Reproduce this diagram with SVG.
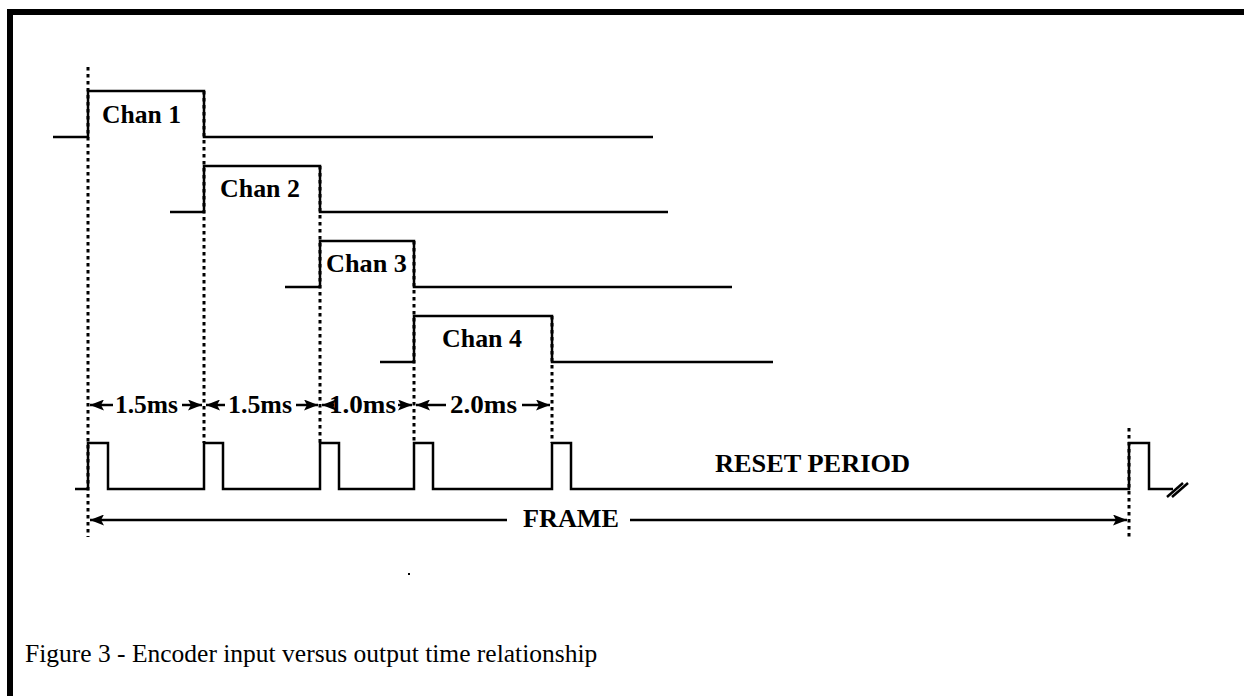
<svg xmlns="http://www.w3.org/2000/svg" width="1244" height="696" viewBox="0 0 1244 696">
<style>
.w{fill:none;stroke:#000;stroke-width:2.5;stroke-linejoin:miter}
.d{fill:none;stroke:#000;stroke-width:3;stroke-dasharray:3.5 3.5}
.a{fill:none;stroke:#000;stroke-width:2.5}
.b{font-family:"Liberation Serif","DejaVu Serif","Times New Roman",Times,serif;font-weight:bold;font-size:25px;fill:#000}
.c{font-family:"Liberation Serif","DejaVu Serif","Times New Roman",Times,serif;font-size:25.5px;fill:#000}
</style>
<defs>
<marker id="ah" viewBox="0 0 14 11" refX="14" refY="5.5" markerWidth="14" markerHeight="11" markerUnits="userSpaceOnUse" orient="auto-start-reverse">
<path d="M0,0 L14,5.5 L0,11 L3,5.5 z" fill="#000"/>
</marker>
</defs>
<rect width="1244" height="696" fill="#fff"/>
<g id="border">
<rect x="7" y="9" width="1237" height="6" fill="#000"/>
<rect x="7" y="9" width="6" height="687" fill="#000"/>
</g>
<g id="connectors">
<line class="d" x1="88" y1="67" x2="88" y2="537"/>
<line class="d" x1="204" y1="91" x2="204" y2="443"/>
<line class="d" x1="320" y1="166" x2="320" y2="443"/>
<line class="d" x1="414" y1="241" x2="414" y2="443"/>
<line class="d" x1="552" y1="316" x2="552" y2="443"/>
<line class="d" x1="1129" y1="428" x2="1129" y2="537"/>
<line class="a" x1="90" y1="405" x2="113" y2="405" marker-start="url(#ah)"/>
<line class="a" x1="182" y1="405" x2="202" y2="405" marker-end="url(#ah)"/>
<line class="a" x1="206" y1="405" x2="225" y2="405" marker-start="url(#ah)"/>
<line class="a" x1="296" y1="405" x2="318" y2="405" marker-end="url(#ah)"/>
<line class="a" x1="322" y1="405" x2="334" y2="405" marker-start="url(#ah)"/>
<line class="a" x1="398" y1="405" x2="412" y2="405" marker-end="url(#ah)"/>
<line class="a" x1="416" y1="405" x2="446" y2="405" marker-start="url(#ah)"/>
<line class="a" x1="522" y1="405" x2="550" y2="405" marker-end="url(#ah)"/>
<line class="a" x1="90" y1="520" x2="507" y2="520" marker-start="url(#ah)"/>
<line class="a" x1="630" y1="520" x2="1127" y2="520" marker-end="url(#ah)"/>
<text class="b" x="115" y="413" textLength="63" lengthAdjust="spacingAndGlyphs">1.5ms</text>
<text class="b" x="228" y="413" textLength="64" lengthAdjust="spacingAndGlyphs">1.5ms</text>
<text class="b" x="329" y="413" textLength="67" lengthAdjust="spacingAndGlyphs">1.0ms</text>
<text class="b" x="450" y="413" textLength="67" lengthAdjust="spacingAndGlyphs">2.0ms</text>
<text class="b" x="523" y="527" textLength="96" lengthAdjust="spacingAndGlyphs">FRAME</text>
</g>
<g id="chan1">
<polyline class="w" points="53,137 88,137 88,91 204,91 204,137 653,137"/>
<text class="b" x="102" y="123" textLength="79" lengthAdjust="spacingAndGlyphs">Chan 1</text>
</g>
<g id="chan2">
<polyline class="w" points="170,212 204,212 204,166 320,166 320,212 668,212"/>
<text class="b" x="220" y="197" textLength="80" lengthAdjust="spacingAndGlyphs">Chan 2</text>
</g>
<g id="chan3">
<polyline class="w" points="285,287 320,287 320,241 414,241 414,287 732,287"/>
<text class="b" x="326" y="272" textLength="81" lengthAdjust="spacingAndGlyphs">Chan 3</text>
</g>
<g id="chan4">
<polyline class="w" points="380,362 414,362 414,316 552,316 552,362 773,362"/>
<text class="b" x="442" y="347" textLength="80" lengthAdjust="spacingAndGlyphs">Chan 4</text>
</g>
<g id="output">
<polyline class="w" points="75,489 88,489 88,443 108,443 108,489 204,489 204,443 223,443 223,489 320,489 320,443 339,443 339,489 414,489 414,443 433,443 433,489 552,489 552,443 571,443 571,489 1129,489 1129,443 1149,443 1149,489 1173,489"/>
<line class="a" x1="1167" y1="497" x2="1183" y2="483"/>
<line class="a" x1="1172" y1="497" x2="1188" y2="483"/>
<text class="b" x="715" y="472" textLength="195" lengthAdjust="spacingAndGlyphs">RESET PERIOD</text>
</g>
<rect x="408" y="573" width="2" height="2" fill="#000"/>
<text class="c" x="25" y="662">Figure 3 - Encoder input versus output time relationship</text>
</svg>
